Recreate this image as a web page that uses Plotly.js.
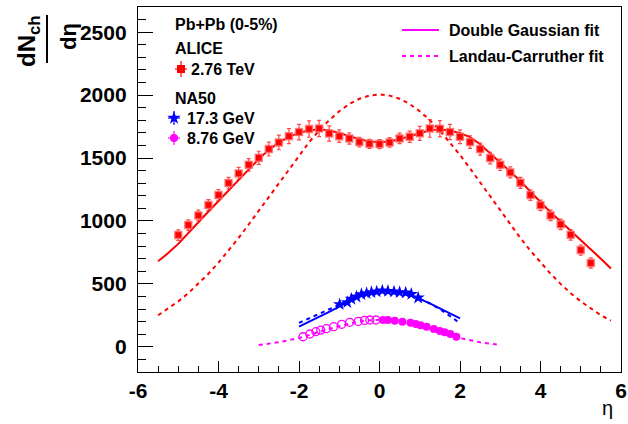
<!DOCTYPE html>
<html>
<head>
<meta charset="utf-8">
<script src="https://cdn.plot.ly/plotly-3.0.1.min.js"></script>
<style>html,body{margin:0;padding:0;background:#fff;}#plot{width:628px;height:424px;}</style>
</head>
<body>
<div id="plot"></div>
<script>
// ---------------- data ----------------
const aliceEta = [-5,-4.75,-4.5,-4.25,-4,-3.75,-3.5,-3.25,-3,-2.75,-2.5,-2.25,-2,-1.75,-1.5,-1.25,-1,-0.75,-0.5,-0.25,
                  0,0.25,0.5,0.75,1,1.25,1.5,1.75,2,2.25,2.5,2.75,3,3.25,3.5,3.75,4,4.25,4.5,4.75,5,5.25];
const aliceVal = [888,967,1044,1126,1206,1301,1378,1446,1502,1571,1624,1674,1706,1730,1735,1695,1674,1656,1627,1613,
                  1611,1624,1656,1669,1696,1735,1733,1707,1669,1627,1571,1500,1446,1386,1303,1206,1124,1044,973,890,769,666];
const aliceErr = [42,42,42,44,44,46,48,50,52,55,58,60,62,65,65,60,50,45,38,36,
                  36,38,42,45,55,70,65,60,55,50,48,46,45,44,44,42,42,42,42,42,40,40];

const fitEta = [-5.5,-5.25,-5,-4.75,-4.5,-4.25,-4,-3.75,-3.5,-3.25,-3,-2.75,-2.5,-2.25,-2,-1.75,-1.5,-1.25,-1,-0.75,-0.5,-0.25,
                0,0.25,0.5,0.75,1,1.25,1.5,1.75,2,2.25,2.5,2.75,3,3.25,3.5,3.75,4,4.25,4.5,4.75,5,5.25,5.5,5.75];
const aliceDG = [680,745,818,900,990,1075,1160,1245,1330,1415,1492,1565,1622,1668,1700,1720,1727,1720,1700,1675,1650,1632,
                 1626,1632,1650,1675,1700,1720,1727,1718,1698,1666,1610,1537,1470,1398,1318,1232,1150,1070,995,922,850,780,700,622];
const aliceLC = [251,303,361,426,500,581,669,764,865,972,1081,1194,1306,1417,1524,1625,1718,1801,1872,1929,1971,1996,
                 2005,1996,1971,1929,1872,1801,1718,1625,1524,1417,1306,1194,1081,972,865,764,669,581,500,426,361,303,251,208];

const na173Eta = [-0.99,-0.80,-0.70,-0.57,-0.45,-0.32,-0.20,-0.07,0.07,0.21,0.36,0.50,0.65,0.79,0.96];
const na173Val = [337,353,380,398,417,425,433,438,446,443,438,433,430,419,390];
const na173FitEta = [-2,-1.75,-1.5,-1.25,-1,-0.75,-0.5,-0.25,0,0.25,0.5,0.75,1,1.25,1.5,1.75,2];
const na173DG = [160,198,237,278,319,365,405,432,447,452,440,415,383,345,305,265,226];
const na173LC = [190,226,262,299,335,370,400,425,437,442,432,410,382,345,300,245,187];

const na876EtaRefl = [-1.90,-1.73,-1.58,-1.46,-1.32,-1.14,-0.94,-0.74,-0.53,-0.37,-0.24,-0.09];
const na876ValRefl = [80,102,120,133,144,160,179,195,202,210,213,213];
const na876Eta = [0.09,0.21,0.38,0.57,0.77,0.90,1.02,1.17,1.35,1.50,1.62,1.76,1.91];
const na876Val = [213,213,207,199,191,181,171,160,141,125,115,102,80];
const na876FitEta = [-3,-2.5,-2,-1.5,-1,-0.5,0,0.5,1,1.5,2,2.5,3];
const na876LC = [15,36,70,116,165,202,216,202,165,116,70,36,15];

const xTickVals = [-6,-4,-2,0,2,4,6];
const xTickText = ['-6','-4','-2','0','2','4','6'];
const yTickVals = [0,500,1000,1500,2000,2500];
const yTickText = ['0','500','1000','1500','2000','2500'];

// ---------------- styling ----------------
const RED = '#ff0000', BLUE = '#0000ff', MAG = '#ff00ff';
const FONT = 'Liberation Sans, Arial, Helvetica, sans-serif';
const L = 138, R = 621, T = 7, B = 372;           // plot area in pixels
const px = v => (v - L) / (R - L);
const py = v => (B - v) / (B - T);

const traces = [
  {x: fitEta, y: aliceLC, mode: 'lines', line: {color: RED, width: 2, dash: '4px,4px'}},
  {x: fitEta, y: aliceDG, mode: 'lines', line: {color: RED, width: 2}},
  {x: na876FitEta, y: na876LC, mode: 'lines', line: {color: MAG, width: 2, dash: '4px,4px'}},
  {x: na173FitEta, y: na173LC, mode: 'lines', line: {color: BLUE, width: 2, dash: '4px,4px'}},
  {x: na173FitEta, y: na173DG, mode: 'lines', line: {color: BLUE, width: 2}},
  {x: aliceEta, y: aliceVal, mode: 'markers',
   error_y: {type: 'data', array: aliceErr, color: 'rgba(255,40,40,0.85)', thickness: 1.2, width: 2},
   marker: {symbol: 'square', size: 7, color: RED, line: {color: 'rgba(255,110,110,0.8)', width: 1.5}}},
  {x: na876EtaRefl, y: na876ValRefl, mode: 'markers',
   marker: {symbol: 'circle-open', size: 8, color: MAG, line: {color: MAG, width: 1.3}}},
  {x: na876Eta, y: na876Val, mode: 'markers',
   marker: {symbol: 'circle', size: 8, color: MAG}},
  {x: na173Eta, y: na173Val, mode: 'markers',
   marker: {symbol: 'star', size: 10, color: BLUE}},
  // legend keys (pixel overlay axis)
  {x: [181], y: [69], xaxis: 'x2', yaxis: 'y2', mode: 'markers',
   error_y: {type: 'constant', value: 8, color: RED, thickness: 1.2, width: 0},
   error_x: {type: 'constant', value: 6, color: RED, thickness: 1.2, width: 0},
   marker: {symbol: 'square', size: 8, color: RED}},
  {x: [174], y: [118], xaxis: 'x2', yaxis: 'y2', mode: 'markers',
   error_y: {type: 'constant', value: 7, color: BLUE, thickness: 1.2, width: 0},
   error_x: {type: 'constant', value: 6, color: BLUE, thickness: 1.2, width: 0},
   marker: {symbol: 'star', size: 10, color: BLUE}},
  {x: [174], y: [138], xaxis: 'x2', yaxis: 'y2', mode: 'markers',
   error_y: {type: 'constant', value: 7, color: MAG, thickness: 1.2, width: 0},
   error_x: {type: 'constant', value: 6, color: MAG, thickness: 1.2, width: 0},
   marker: {symbol: 'circle', size: 8, color: MAG}}
];
traces.forEach(t => { t.showlegend = false; t.hoverinfo = 'skip'; });

const txt = (x, y, s, size, extra) => Object.assign({
  xref: 'x2', yref: 'y2', x: x, y: y, text: s, showarrow: false, xanchor: 'left', yanchor: 'middle',
  font: {family: FONT, size: size || 16, color: '#000', weight: 'bold'}
}, extra || {});

const layout = {
  width: 628, height: 424,
  margin: {l: L, r: 628 - R, t: T, b: 424 - B, pad: 0},
  paper_bgcolor: '#fff', plot_bgcolor: '#fff',
  showlegend: false,
  xaxis: {range: [-6, 6], tickmode: 'array', tickvals: xTickVals, ticktext: xTickText,
          ticks: 'inside', ticklen: 11, tickwidth: 1, tickcolor: '#000',
          minor: {dtick: 0.5, tick0: 0, ticks: 'inside', ticklen: 6, tickcolor: '#000', showgrid: false},
          showline: true, mirror: true, linecolor: '#000', linewidth: 1.2,
          showgrid: false, zeroline: false,
          tickfont: {family: FONT, size: 21, color: '#000', weight: 'bold'}},
  yaxis: {range: [-200, 2700], tickmode: 'array', tickvals: yTickVals, ticktext: yTickText,
          ticks: 'inside', ticklen: 15, tickwidth: 1, tickcolor: '#000',
          minor: {dtick: 100, tick0: 0, ticks: 'inside', ticklen: 8, tickcolor: '#000', showgrid: false},
          showline: true, mirror: true, linecolor: '#000', linewidth: 1.2,
          showgrid: false, zeroline: false, ticklabelstandoff: 6,
          tickfont: {family: FONT, size: 21, color: '#000', weight: 'bold'}},
  xaxis2: {overlaying: 'x', range: [L, R], visible: false, fixedrange: true},
  yaxis2: {overlaying: 'y', range: [B, T], visible: false, fixedrange: true},
  shapes: [
    {type: 'line', xref: 'x2', yref: 'y2', x0: 402, x1: 439, y0: 30, y1: 30, line: {color: MAG, width: 2}},
    {type: 'line', xref: 'x2', yref: 'y2', x0: 402, x1: 439, y0: 56, y1: 56, line: {color: MAG, width: 2, dash: '4px,4px'}},
    {type: 'line', xref: 'paper', yref: 'paper', x0: px(47), x1: px(47), y0: py(15), y1: py(63), line: {color: '#000', width: 2}}
  ],
  annotations: [
    txt(173, 24, 'Pb+Pb (0-5%)', 16),
    txt(173, 48, 'ALICE', 16),
    txt(189, 69, '2.76 TeV', 16),
    txt(173, 98, 'NA50', 16),
    txt(185, 118, '17.3 GeV', 16),
    txt(185, 138, '8.76 GeV', 16),
    txt(447, 30, 'Double Gaussian fit', 16),
    txt(447, 56, 'Landau-Carruther fit', 16),
    {xref: 'paper', yref: 'paper', x: px(607), y: py(408), text: 'η', showarrow: false,
     xanchor: 'center', yanchor: 'middle', font: {family: FONT, size: 20, color: '#000'}},
    {xref: 'paper', yref: 'paper', x: px(29), y: py(41), text: 'dN<sub>ch</sub>', showarrow: false, textangle: -90,
     xanchor: 'center', yanchor: 'middle', font: {family: FONT, size: 24, color: '#000', weight: 'bold'}},
    {xref: 'paper', yref: 'paper', x: px(68), y: py(37), text: 'dη', showarrow: false, textangle: -90,
     xanchor: 'center', yanchor: 'middle', font: {family: FONT, size: 22, color: '#000', weight: 'bold'}}
  ]
};

Plotly.newPlot('plot', traces, layout, {staticPlot: true, displayModeBar: false});
</script>
</body>
</html>
